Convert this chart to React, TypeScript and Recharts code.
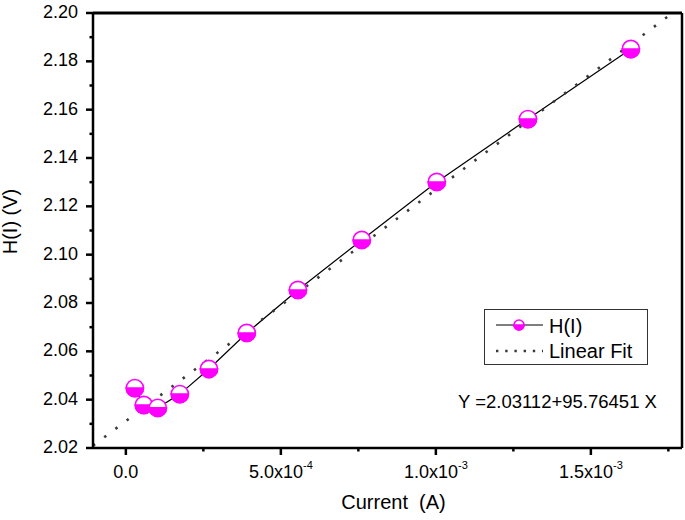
import { ComposedChart, Line, XAxis, YAxis, ReferenceLine } from 'recharts';

const currentA = [2.9e-5, 5.8e-5, 1.03e-4, 1.74e-4, 2.68e-4, 3.9e-4, 5.55e-4, 7.61e-4, 1.003e-3, 1.297e-3, 1.629e-3];
const hVolts = [2.0448, 2.0378, 2.0366, 2.0423, 2.0527, 2.0676, 2.0854, 2.1061, 2.1301, 2.1561, 2.1851];

// fit reported on the chart
const fitIntercept = 2.03112;
const fitSlope = 95.76451;
const fitRange = [-1.06e-4, 1.7635e-3];

const xDomain = [-1.06e-4, 1.794e-3];
const yDomain = [2.02, 2.2];

const xTicks = [0, 2.5e-4, 5e-4, 7.5e-4, 1e-3, 1.25e-3, 1.5e-3, 1.75e-3];
const xTickLabels: Record<string, [string, string]> = {
  '0': ['0.0', ''],
  '0.0005': ['5.0x10', '-4'],
  '0.001': ['1.0x10', '-3'],
  '0.0015': ['1.5x10', '-3'],
};
const yTicks = [2.02, 2.03, 2.04, 2.05, 2.06, 2.07, 2.08, 2.09, 2.1, 2.11, 2.12, 2.13, 2.14, 2.15, 2.16, 2.17, 2.18, 2.19, 2.2];
const yTickLabels = ['2.02', '2.04', '2.06', '2.08', '2.10', '2.12', '2.14', '2.16', '2.18', '2.20'];

const FONT = '"Liberation Sans", Arial, sans-serif';
const MAGENTA = '#ff00ff';

const points = currentA.map((x, i) => ({ x, y: hVolts[i] }));
const fitLine = fitRange.map((x) => ({ x, y: fitIntercept + fitSlope * x }));

function HalfMarker({ cx, cy, r = 8.6 }: { cx: number; cy: number; r?: number }) {
  return (
    <g>
      <circle cx={cx} cy={cy} r={r} fill="#fff" stroke={MAGENTA} strokeWidth={1.6} />
      <path d={`M ${cx - r} ${cy} A ${r} ${r} 0 0 0 ${cx + r} ${cy} Z`} fill={MAGENTA} stroke={MAGENTA} strokeWidth={1.6} />
    </g>
  );
}

const YTick = ({ x, y, payload }: any) => {
  const v = payload.value as number;
  const label = yTickLabels.find((l) => Math.abs(parseFloat(l) - v) < 1e-6);
  return (
    <g>
      <line x1={x} x2={x - (label ? 7 : 3.5)} y1={y} y2={y} stroke="#000" strokeWidth={2.5} />
      {label && (
        <text x={x - 15} y={y + 5} textAnchor="end" fontSize={18} fontFamily={FONT} fill="#000">
          {label}
        </text>
      )}
    </g>
  );
};

const XTick = ({ x, y, payload }: any) => {
  const v = payload.value as number;
  const key = Object.keys(xTickLabels).find((k) => Math.abs(parseFloat(k) - v) < 1e-9);
  const label = key ? xTickLabels[key] : null;
  return (
    <g>
      <line x1={x} x2={x} y1={y} y2={y + (label ? 7 : 3.5)} stroke="#000" strokeWidth={2.5} />
      {label && (
        <text x={x} y={y + 30} textAnchor="middle" fontSize={18} fontFamily={FONT} fill="#000">
          <tspan>{label[0]}</tspan>
          {label[1] && (
            <tspan dy={-9} fontSize={11}>
              {label[1]}
            </tspan>
          )}
        </text>
      )}
    </g>
  );
};

export default function App() {
  return (
    <div style={{ position: 'absolute', left: 0, top: 0, width: 685, height: 520, background: '#fff', fontFamily: FONT }}>
      <ComposedChart width={685} height={520} margin={{ top: 13, right: 3, bottom: 0, left: 5 }}>
        <XAxis
          type="number"
          dataKey="x"
          domain={xDomain}
          allowDataOverflow
          ticks={xTicks}
          interval={0}
          tick={<XTick />}
          tickLine={false}
          tickSize={0}
          tickMargin={0}
          height={72}
          axisLine={{ stroke: '#000', strokeWidth: 2.5 }}
          label={{
            content: ({ viewBox }: any) => (
              <text x={viewBox.x + viewBox.width / 2 + 6} y={viewBox.y + viewBox.height - 11} textAnchor="middle" fontSize={20} fontFamily={FONT} fill="#000" style={{ whiteSpace: 'pre' }}>
                {'Current  (A)'}
              </text>
            ),
          }}
        />
        <YAxis
          type="number"
          domain={yDomain}
          allowDataOverflow
          ticks={yTicks}
          interval={0}
          tick={<YTick />}
          tickLine={false}
          tickSize={0}
          tickMargin={0}
          width={88}
          axisLine={{ stroke: '#000', strokeWidth: 2.5 }}
          label={{
            content: ({ viewBox }: any) => {
              const cx = 17;
              const cy = viewBox.y + viewBox.height / 2 - 9;
              return (
                <text x={cx} y={cy} transform={`rotate(-90 ${cx} ${cy})`} textAnchor="middle" fontSize={20} fontFamily={FONT} fill="#000">
                  H(I) (V)
                </text>
              );
            },
          }}
        />
        <ReferenceLine y={yDomain[1]} stroke="#000" strokeWidth={3} />
        <ReferenceLine x={xDomain[1]} stroke="#000" strokeWidth={2.5} />
        <Line
          data={points}
          dataKey="y"
          type="linear"
          stroke="#000"
          strokeWidth={1.2}
          dot={(p: any) => <HalfMarker key={p.index} cx={p.cx} cy={p.cy} />}
          activeDot={false}
          isAnimationActive={false}
        />
        <Line
          data={fitLine}
          dataKey="y"
          type="linear"
          stroke="#3a3a3a"
          strokeWidth={2.6}
          strokeDasharray="2.5 11.5"
          dot={false}
          activeDot={false}
          isAnimationActive={false}
        />
      </ComposedChart>

      <div
        style={{
          position: 'absolute',
          left: 484,
          top: 309,
          width: 164,
          height: 56,
          boxSizing: 'border-box',
          border: '1.5px solid #333',
          background: '#fff',
        }}
      >
        <svg width={164} height={56} style={{ position: 'absolute', left: -1.5, top: -1.5 }}>
          <line x1={12} x2={59} y1={16} y2={16} stroke="#000" strokeWidth={1.2} />
          <HalfMarker cx={35} cy={16} r={5} />
          <line x1={12} x2={59} y1={42} y2={42} stroke="#3a3a3a" strokeWidth={2.4} strokeDasharray="2.4 6.8" />
          <text x={65} y={24} fontSize={20} fontFamily={FONT} fill="#000">H(I)</text>
          <text x={65} y={49} fontSize={20} fontFamily={FONT} fill="#000">Linear Fit</text>
        </svg>
      </div>

      <div style={{ position: 'absolute', left: 458, top: 391, fontSize: 18.5, lineHeight: '21px', color: '#000', whiteSpace: 'nowrap' }}>
        Y =2.03112+95.76451 X
      </div>
    </div>
  );
}
